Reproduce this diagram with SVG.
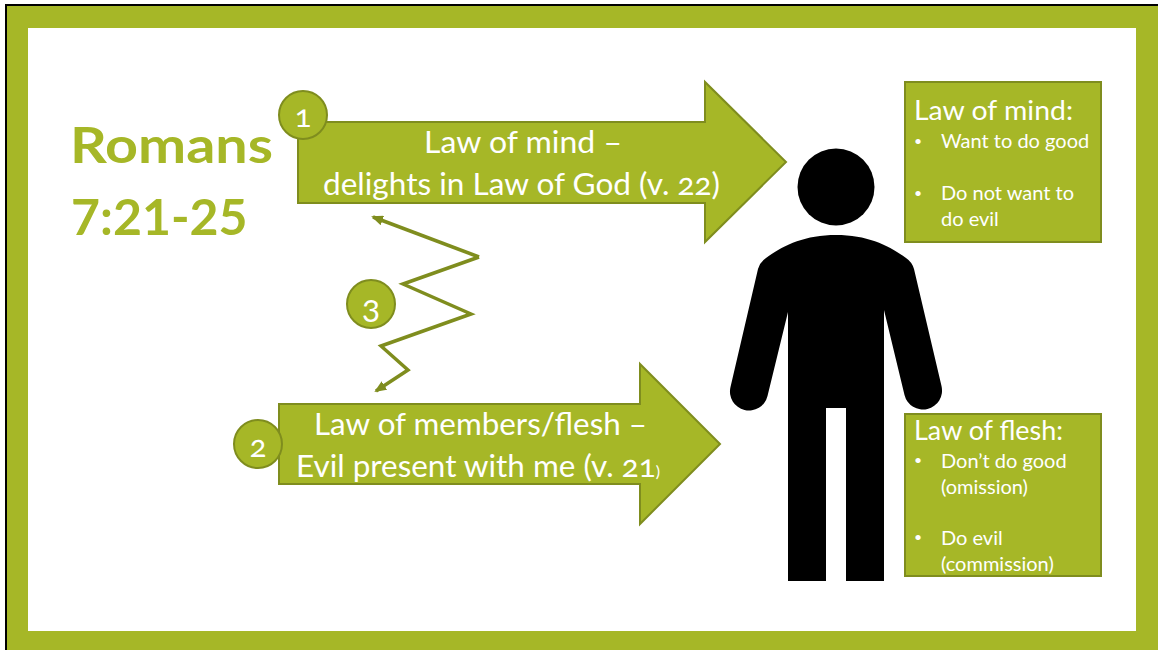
<svg xmlns="http://www.w3.org/2000/svg" width="1158" height="650" viewBox="0 0 1158 650">
<style>
text{font-family:"Lato","Open Sans","Liberation Sans",sans-serif;fill:#fff;font-variant-numeric:oldstyle-nums}
.shape{fill:#a6b727;stroke:#7f8d1e;stroke-width:2}
.big{font-size:31px}
.num{text-anchor:middle;font-size:31px}
.head{font-size:27px}
.item{font-size:20px}
.dot{font-size:14px}
.title{font-size:50px;font-weight:700;fill:#a6b727;font-variant-numeric:lining-nums}
</style>
<defs><marker id="ah" markerWidth="12" markerHeight="10" refX="10" refY="5" orient="auto" markerUnits="userSpaceOnUse"><path d="M0 0L12 5L0 10z" fill="#7f8d1e"/></marker></defs>
<rect width="1158" height="650" fill="#fff"/>
<rect x="6" y="5" width="1160" height="655" fill="#a6b727" stroke="#000" stroke-width="2"/>
<rect x="28" y="28" width="1108" height="603" fill="#fff"/>
<g id="title"><text class="title" x="70" y="163" textLength="203" lengthAdjust="spacingAndGlyphs">Romans</text><text class="title" x="71" y="235">7:21-25</text></g>
<g id="arrow-mind"><path class="shape" d="M298 122H705V82L786 162L705 242V203H298Z"/><text class="big" x="424" y="153" textLength="198" lengthAdjust="spacingAndGlyphs">Law of mind –</text><text class="big" x="323" y="195" textLength="397" lengthAdjust="spacingAndGlyphs">delights in Law of God (v. 22)</text></g>
<g id="arrow-flesh"><path class="shape" d="M279 404H640V364L720 444L640 524V484H279Z"/><text class="big" x="314" y="435" textLength="333" lengthAdjust="spacingAndGlyphs">Law of members/flesh –</text><text class="big" x="296" y="477" textLength="364" lengthAdjust="spacingAndGlyphs">Evil present with me (v. 21<tspan font-size="16">)</tspan></text></g>
<g id="badge-1"><circle class="shape" cx="303" cy="115" r="24"/><text class="num" x="303" y="127">1</text></g>
<g id="badge-2"><circle class="shape" cx="258" cy="444" r="24"/><text class="num" x="258" y="457">2</text></g>
<g id="badge-3"><circle class="shape" cx="371" cy="304" r="24"/><text class="num" x="371" y="322" font-size="29" style="font-variant-numeric:lining-nums">3</text></g>
<g id="connectors"><polyline points="479,257 403,284 471,314 381,346 408,370 376,391" fill="none" stroke="#7f8d1e" stroke-width="3.500" marker-end="url(#ah)"/><polyline points="479,257 373,217" fill="none" stroke="#7f8d1e" stroke-width="3.500" marker-end="url(#ah)"/></g>
<g id="person">
<circle cx="836" cy="187" r="38.500"/>
<path d="M836 235C868 235 890 246 906 258Q912 262 914 269L941.500 386A19 19 0 0 1 904.500 395L884 310V581H846V408H826V581H788V312L767.500 396A19 19 0 0 1 730.500 387L758 269Q760 262 766 258C782 246 804 235 836 235Z"/>
</g>
<g id="box-mind"><rect class="shape" x="905" y="82" width="196" height="160"/><text class="head" x="914" y="120" textLength="159" lengthAdjust="spacingAndGlyphs">Law of mind:</text><text class="dot" x="914" y="146">•</text><text class="item" x="941" y="148">Want to do good</text><text class="dot" x="914" y="198">•</text><text class="item" x="941" y="200">Do not want to</text><text class="item" x="941" y="226">do evil</text></g>
<g id="box-flesh"><rect class="shape" x="905" y="414" width="196" height="162"/><text class="head" x="914" y="440" textLength="149" lengthAdjust="spacingAndGlyphs">Law of flesh:</text><text class="dot" x="914" y="465">•</text><text class="item" x="941" y="468">Don’t do good</text><text class="item" x="941" y="494">(omission)</text><text class="dot" x="914" y="542">•</text><text class="item" x="941" y="545">Do evil</text><text class="item" x="941" y="571">(commission)</text></g>
</svg>
